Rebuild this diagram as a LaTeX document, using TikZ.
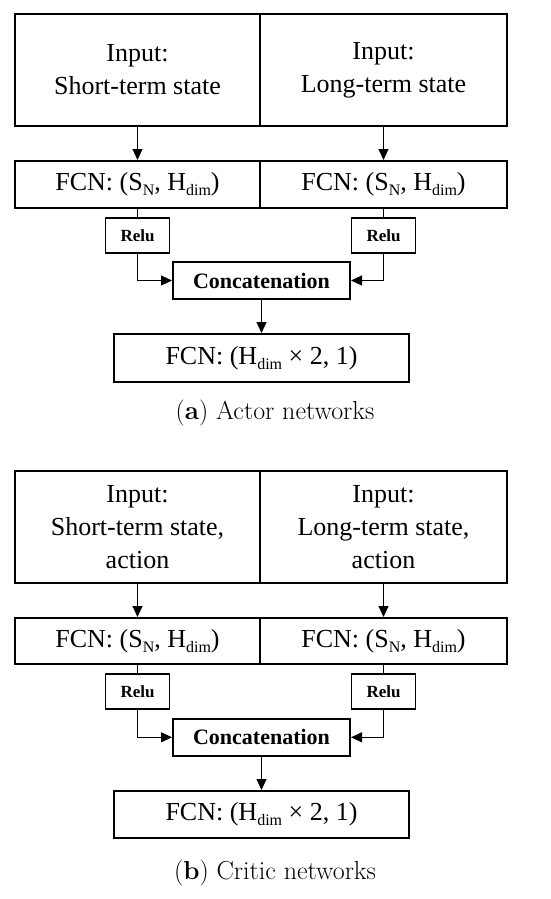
\documentclass[tikz,border=0pt]{standalone}
\usepackage{fontspec}
\newfontfamily\tms{Liberation Serif}
\usetikzlibrary{arrows.meta}
\newcommand{\sbx}[1]{\raisebox{-5pt}{\fontsize{16}{16}\selectfont #1}}
\tikzset{
  bigbox/.style={draw, line width=2pt, inner sep=0pt, align=center, font=\tms\fontsize{26}{33}\selectfont},
  relubox/.style={draw, line width=1.3pt, inner sep=0pt, minimum width=64pt, minimum height=35pt, font=\tms\bfseries\fontsize{17}{20}\selectfont},
  catbox/.style={draw, line width=2pt, inner sep=0pt, minimum width=177pt, minimum height=37pt, font=\tms\bfseries\fontsize{22}{26}\selectfont},
  conn/.style={line width=1pt},
  arr/.style={line width=1pt, -{Triangle[length=11pt,width=10pt]}},
  captext/.style={font=\fontsize{26}{30}\selectfont, inner sep=0pt}
}
\begin{document}
\begin{tikzpicture}[x=1pt,y=-1pt]
\useasboundingbox (0,0) rectangle (550,899);
% ---------- (a) Actor ----------
\node[bigbox, minimum width=245pt, minimum height=112pt] (ain1) at (137.5,70) {Input:\\Short-term state};
\node[bigbox, minimum width=247pt, minimum height=112pt] (ain2) at (383.5,70) {Input:\\Long-term state};
\node[bigbox, minimum width=245pt, minimum height=47pt] (afc1) at (137.5,184.5) {FCN: (S\sbx{N}, H\sbx{dim})};
\node[bigbox, minimum width=247pt, minimum height=47pt] (afc2) at (383.5,184.5) {FCN: (S\sbx{N}, H\sbx{dim})};
\node[relubox] (arl1) at (137.5,235.5) {Relu};
\node[relubox] (arl2) at (383.5,235.5) {Relu};
\node[catbox] (acat) at (261.5,280.5) {Concatenation};
\node[bigbox, minimum width=295pt, minimum height=48pt] (aout) at (261.5,358) {FCN: (H\sbx{dim} × 2, 1)};
\node[captext] (acap) at (275,413) {(\textbf{a}) Actor networks};
\draw[arr] (ain1.south) -- (afc1.north);
\draw[arr] (ain2.south) -- (afc2.north);
\draw[conn] (afc1.south) -- (arl1.north);
\draw[conn] (afc2.south) -- (arl2.north);
\draw[arr] (arl1.south) |- (acat.west);
\draw[arr] (arl2.south) |- (acat.east);
\draw[arr] (acat.south) -- (aout.north);
% ---------- (b) Critic ----------
\node[bigbox, minimum width=245pt, minimum height=112pt] (bin1) at (137.5,526.7) {Input:\\Short-term state,\\action};
\node[bigbox, minimum width=247pt, minimum height=112pt] (bin2) at (383.5,526.7) {Input:\\Long-term state,\\action};
\node[bigbox, minimum width=245pt, minimum height=46pt] (bfc1) at (137.5,641) {FCN: (S\sbx{N}, H\sbx{dim})};
\node[bigbox, minimum width=247pt, minimum height=46pt] (bfc2) at (383.5,641) {FCN: (S\sbx{N}, H\sbx{dim})};
\node[relubox] (brl1) at (137.5,691.5) {Relu};
\node[relubox] (brl2) at (383.5,691.5) {Relu};
\node[catbox] (bcat) at (261.5,737.3) {Concatenation};
\node[bigbox, minimum width=295pt, minimum height=47pt] (bout) at (261.5,814.5) {FCN: (H\sbx{dim} × 2, 1)};
\node[captext] (bcap) at (275,873) {(\textbf{b}) Critic networks};
\draw[arr] (bin1.south) -- (bfc1.north);
\draw[arr] (bin2.south) -- (bfc2.north);
\draw[conn] (bfc1.south) -- (brl1.north);
\draw[conn] (bfc2.south) -- (brl2.north);
\draw[arr] (brl1.south) |- (bcat.west);
\draw[arr] (brl2.south) |- (bcat.east);
\draw[arr] (bcat.south) -- (bout.north);
\end{tikzpicture}
\end{document}
